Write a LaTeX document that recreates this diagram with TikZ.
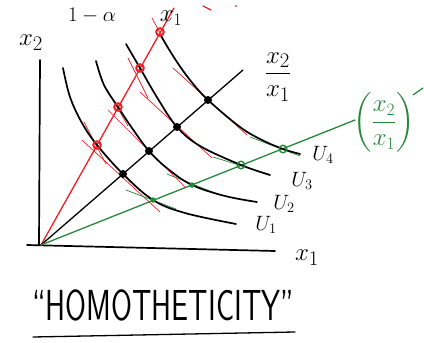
\documentclass[tikz,border=0pt]{standalone}
\usepackage{amsmath}
\usepackage{graphicx}
\definecolor{pred}{RGB}{236,32,36}
\definecolor{pgreen}{RGB}{36,135,58}
\begin{document}
\begin{tikzpicture}[x=1pt,y=-1pt,
 curve/.style={line width=1.7pt, line cap=round},
 ray/.style={line width=1.3pt, line cap=round},
 tanline/.style={line width=0.7pt, line cap=round},
 bdot/.style={circle, fill=black, inner sep=0pt, minimum size=8pt},
 rdot/.style={circle, draw=pred, line width=2pt, inner sep=0pt, minimum size=7.5pt},
 gdot/.style={circle, fill=pgreen, inner sep=0pt, minimum size=5.5pt},
 godot/.style={circle, draw=pgreen, line width=1.4pt, inner sep=0pt, minimum size=7.5pt},
 lab/.style={font=\fontsize{30}{34}\selectfont, inner sep=0pt},
 ulab/.style={font=\fontsize{22}{26}\selectfont, inner sep=0pt}]
\useasboundingbox (0,0) rectangle (424,343);
% axes
\coordinate (O) at (41,245);
\coordinate (ytop) at (40,60);
\coordinate (ybot) at (39,245);
\coordinate (xl) at (27,245);
\coordinate (xr) at (275,251);
\draw[curve] (ytop) -- (ybot);
\draw[curve] (xl) -- (xr);
% rays
\coordinate (Rend) at (174,8);
\coordinate (Bend) at (243,70);
\coordinate (Gend) at (355,120);
\draw[ray,pred] (O) -- (Rend);
\draw[ray] (O) -- (Bend);
\draw[ray,pgreen] (O) -- (Gend);
% red tangents at black dots
\draw[tanline,pred] (82,140) -- (160,212);
\draw[tanline,pred] (108,110) -- (186,188);
\draw[tanline,pred] (140,92) -- (212,158);
\draw[tanline,pred] (173,68) -- (247,135);
% red tangents at red dots
\draw[tanline,pred] (84,122) -- (106,164);
\draw[tanline,pred] (106,88) -- (128,126);
\draw[tanline,pred] (128,58) -- (148,98);
\draw[tanline,pred] (152,18) -- (166,44);
% green tangents
\draw[tanline,pgreen] (126,190) -- (176,209);
\draw[tanline,pgreen] (167,174) -- (220,195);
\draw[tanline,pgreen] (213,157) -- (268,174);
\draw[tanline,pgreen] (250,137) -- (300,156);
% indifference curves
\draw[curve] plot[smooth,tension=0.6] coordinates {(63,68) (70,97) (82,123) (97,145) (123,174) (153,200) (185,213) (236,224)};
\draw[curve] plot[smooth,tension=0.6] coordinates {(96,61) (104,85) (118,107) (132,128) (149,151) (168,169) (192,185) (225,196) (257,202)};
\draw[curve] plot[smooth,tension=0.6] coordinates {(126,44) (140,68) (158,99) (177,127) (200,146) (241,165) (270,175)};
\draw[curve] plot[smooth,tension=0.6] coordinates {(161,36) (175,59) (190,80) (208,100) (240,127) (262,140) (283,149) (300,154)};
% dots
\node[rdot] (r1) at (97,145) {};
\node[rdot] (r2) at (118,107) {};
\node[rdot] (r3) at (140,68) {};
\node[rdot] (r4) at (160,32) {};
\node[bdot] (b1) at (123,174) {};
\node[bdot] (b2) at (149,151) {};
\node[bdot] (b3) at (177,127) {};
\node[bdot] (b4) at (208,100) {};
\node[gdot] (g1) at (153,200) {};
\node[gdot] (g2) at (192,185) {};
\node[godot] (g3) at (241,165) {};
\node[godot] (g4) at (283,149) {};
% stray red marks
\draw[tanline,pred,line width=1.2pt] (203,6) -- (211,10);
\fill[pred] (236,6) circle (1pt);
% labels
\node[lab] (x2lab) at (31,43) {$x_2$};
\node[lab] (x1lab) at (307,258) {$x_1$};
\node[lab,font=\fontsize{22}{26}\selectfont] (alpha) at (92,16) {$1-\alpha$};
\node[lab,font=\fontsize{24}{28}\selectfont] (x1top) at (171,18) {$x_1$};
\node[lab] (ratio) at (278,77) {$\dfrac{x_2}{x_1}$};
\node[lab,font=\fontsize{27}{31}\selectfont,text=pgreen] (gratio) at (384,122) {$\left(\dfrac{x_2}{x_1}\right)$};
\draw[pgreen,line width=1.2pt,line cap=round] (413,95) -- (423,88);
\node[ulab] (u1) at (266,225) {$U_1$};
\node[ulab] (u2) at (284,204) {$U_2$};
\node[ulab] (u3) at (302,181) {$U_3$};
\node[ulab] (u4) at (323,155) {$U_4$};
\node[inner sep=0pt,font=\fontsize{28}{32}\selectfont\sffamily] (homo) at (163,305) {\scalebox{1.08}[1.55]{``HOMOTHETICITY''}};
\draw[line width=1.3pt,line cap=round] (33,337) -- (295,332);
\end{tikzpicture}
\end{document}
